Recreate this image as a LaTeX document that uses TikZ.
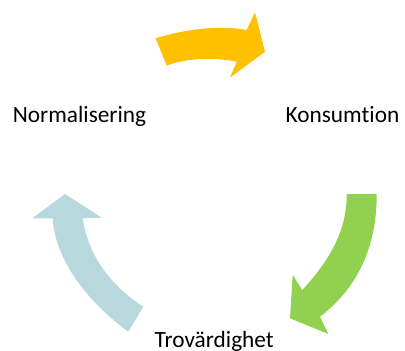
\documentclass[tikz,border=0pt]{standalone}
\usepackage{fontspec}
\setmainfont{Carlito}[Ligatures=NoCommon]
\usetikzlibrary{positioning}
\definecolor{cycyellow}{RGB}{255,192,0}
\definecolor{cycgreen}{RGB}{146,208,80}
\definecolor{cycblue}{RGB}{183,217,222}
\tikzset{stage/.style={font=\fontsize{23.3}{28}\selectfont,anchor=base,inner sep=0pt},
         shape/.style={draw=none}
     }
\begin{document}
\begin{tikzpicture}[x=1pt,y=-1pt]
\useasboundingbox (0,0) rectangle (405,351);
\node[stage] (norm) at (79.5,122.3) {Normalisering};
\node[stage] (kons) at (342.5,122.3) {Konsumtion};
\node[stage] (trov) at (214.2,347.3) {Trovärdighet};
% yellow arrow
\fill[cycyellow] (155.7,38.3) .. controls (185,29) and (220,25) .. (246.7,30)
  -- (255,12.3) -- (265,51.7) -- (230,77.7) -- (236.7,61.7)
  .. controls (215,57) and (185,58) .. (166.7,65.7) -- cycle;
% green arrow
\fill[cycgreen] (346.7,194) -- (376.7,194) .. controls (377,250) and (355,290) .. (320,316.7)
  -- (328.3,334) -- (290,318.3) -- (292.7,275) -- (302.3,290)
  .. controls (330,260) and (347,230) .. (346.7,194) -- cycle;
% blue arrow
\fill[cycblue] (143.3,306.7) -- (128.3,331.7) .. controls (85,300) and (55,258) .. (52.7,218.3)
  -- (32.3,218.3) -- (65,194) -- (101.7,217.7) -- (82.7,218.3)
  .. controls (88,255) and (110,285) .. (143.3,306.7) -- cycle;
\end{tikzpicture}
\end{document}
